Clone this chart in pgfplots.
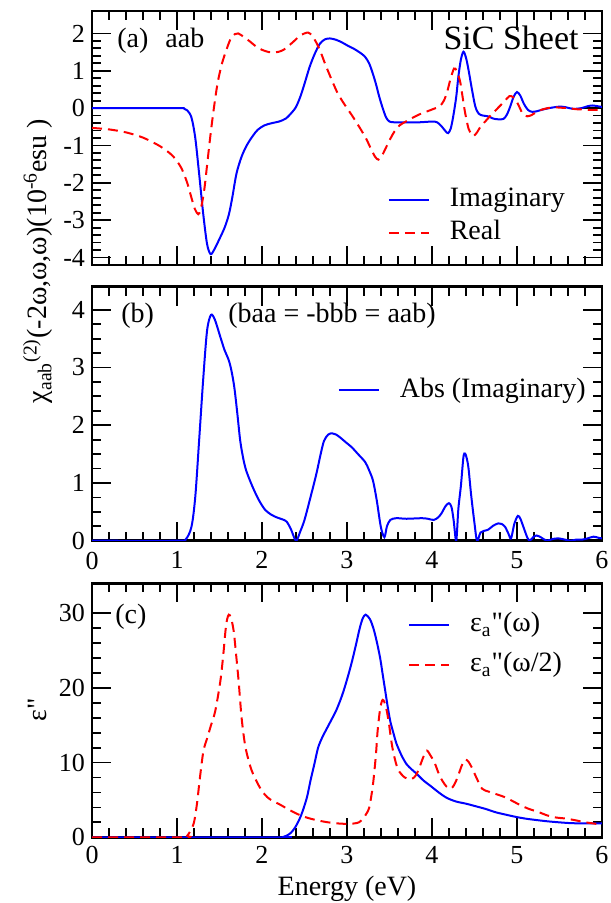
\documentclass[border=0pt]{standalone}
\usepackage{fontspec}
\setmainfont{Liberation Serif}
\usepackage{pgfplots}
\pgfplotsset{compat=1.18}
\definecolor{myblue}{RGB}{0,0,255}
\definecolor{myred}{RGB}{255,0,0}
\pgfplotsset{
 panel/.style={
  scale only axis, width=255pt, height=127pt,
  xmin=0, xmax=6, xtick={0,1,2,3,4,5,6}, minor x tick num=4,
  tick align=inside,
  major tick length=9.5pt, minor tick length=4.5pt,
  every tick/.style={black, line width=0.9pt},
  axis line style={line width=1.3pt},
  ticklabel style={font=\fontsize{13}{15}\selectfont},
  /pgf/number format/assume math mode=true,
  legend image code/.code={\draw[##1] (0pt,0pt) -- (20pt,0pt);},
  legend style={draw=none, fill=none, inner sep=0pt, outer sep=0pt,
    font=\fontsize{14}{16}\selectfont,
    nodes={inner sep=0pt, text height=9.6pt, text depth=3pt},
    /tikz/every odd column/.append style={column sep=10pt}},
  legend cell align=left,
 },
 imline/.style={myblue, line width=1pt, smooth, tension=0.5},
 reline/.style={myred, line width=1pt, dash pattern=on 5pt off 3pt, smooth, tension=0.5},
}
\begin{document}
\begin{tikzpicture}
\path[use as bounding box] (-46pt,5.5pt) rectangle (259pt,-446pt);
% ---------------- (a)
\begin{axis}[panel, at={(0pt,0pt)}, anchor=north west,
  ymin=-4.2, ymax=2.6, ytick={-4,-3,-2,-1,0,1,2},
  yticklabels={-4,-3,-2,-1,0,1,2}, minor y tick num=4,
  xticklabels={},
  legend style={at={(axis description cs:0.58,0.305)}, anchor=north west, row sep=3.9pt}]
\addplot[imline] coordinates {
(0,0) (1.0,0) (1.08,-0.01) (1.12,-0.06) (1.17,-0.25) (1.215,-0.8) (1.26,-1.75) (1.307,-2.8) (1.353,-3.63) (1.395,-3.91)
(1.44,-3.78) (1.50,-3.5) (1.56,-3.2) (1.61,-2.85) (1.65,-2.4) (1.70,-1.75) (1.76,-1.3) (1.82,-1.0) (1.89,-0.75) (1.95,-0.58)
(2.03,-0.46) (2.12,-0.40) (2.20,-0.36) (2.28,-0.28) (2.35,-0.12) (2.40,0.03) (2.45,0.3) (2.50,0.65) (2.56,1.1) (2.62,1.45)
(2.68,1.72) (2.74,1.84) (2.80,1.865) (2.87,1.83) (2.94,1.76) (3.01,1.67) (3.08,1.59) (3.15,1.49) (3.21,1.38) (3.26,1.2)
(3.30,0.95) (3.34,0.65) (3.38,0.3) (3.42,0.0) (3.46,-0.25) (3.50,-0.36) (3.56,-0.38) (3.70,-0.38) (3.85,-0.38) (4.00,-0.36)
(4.06,-0.38) (4.11,-0.48) (4.16,-0.62) (4.19,-0.67) (4.22,-0.55) (4.25,-0.22) (4.285,0.3) (4.31,0.84) (4.34,1.3) (4.37,1.51)
(4.40,1.35) (4.43,1.02) (4.47,0.5) (4.51,0.04) (4.55,-0.15) (4.60,-0.2) (4.66,-0.22) (4.72,-0.28) (4.78,-0.3) (4.84,-0.29)
(4.88,-0.18) (4.92,0.04) (4.96,0.3) (5.00,0.43) (5.04,0.33) (5.08,0.12) (5.13,-0.05) (5.18,-0.1) (5.24,-0.08) (5.30,-0.04)
(5.38,0.0) (5.46,0.03) (5.52,0.04) (5.58,0.02) (5.66,-0.02) (5.76,0.0) (5.83,0.05) (5.89,0.07) (5.95,0.05) (6.0,0.03)};
\addlegendentry{Imaginary}
\addplot[reline] coordinates {
(0,-0.53) (0.2,-0.57) (0.4,-0.65) (0.6,-0.79) (0.8,-1.02) (0.95,-1.28) (1.05,-1.6) (1.12,-2.0) (1.17,-2.4) (1.21,-2.7)
(1.25,-2.84) (1.28,-2.7) (1.32,-2.2) (1.36,-1.4) (1.40,-0.6) (1.44,0.1) (1.48,0.7) (1.53,1.2) (1.58,1.55) (1.63,1.85)
(1.68,1.98) (1.72,2.0) (1.79,1.9) (1.86,1.78) (1.93,1.65) (2.00,1.56) (2.08,1.5) (2.14,1.49) (2.20,1.51) (2.26,1.57)
(2.32,1.68) (2.38,1.8) (2.44,1.93) (2.50,2.0) (2.545,2.02) (2.59,1.94) (2.64,1.75) (2.69,1.5) (2.74,1.2) (2.79,0.92)
(2.84,0.65) (2.89,0.4) (2.95,0.17) (3.00,0.0) (3.06,-0.2) (3.11,-0.38) (3.17,-0.6) (3.23,-0.84) (3.28,-1.08) (3.33,-1.3)
(3.37,-1.38) (3.41,-1.28) (3.46,-1.05) (3.51,-0.82) (3.56,-0.62) (3.62,-0.46) (3.70,-0.35) (3.78,-0.25) (3.86,-0.16) (3.94,-0.09)
(4.02,-0.02) (4.09,0.05) (4.14,0.2) (4.18,0.45) (4.22,0.8) (4.26,1.06) (4.29,1.0) (4.33,0.72) (4.36,0.3) (4.39,-0.13)
(4.43,-0.55) (4.47,-0.72) (4.49,-0.75) (4.53,-0.65) (4.57,-0.5) (4.63,-0.35) (4.68,-0.22) (4.74,-0.08) (4.80,0.06) (4.86,0.2)
(4.91,0.32) (4.95,0.3) (4.99,0.2) (5.03,0.02) (5.07,-0.16) (5.12,-0.22) (5.16,-0.2) (5.22,-0.12) (5.28,-0.05) (5.36,0.0)
(5.44,0.02) (5.52,0.01) (5.60,0.0) (5.70,-0.03) (5.80,-0.04) (5.90,-0.05) (6.00,-0.05)};
\addlegendentry{Real}
\end{axis}
% ---------------- (b)
\begin{axis}[panel, at={(0pt,-137.85pt)}, anchor=north west,
  ymin=0, ymax=4.4, ytick={0,1,2,3,4}, minor y tick num=3,
  xticklabel style={yshift=-2pt},
  legend style={at={(axis description cs:0.482,0.641)}, anchor=north west}]
\addplot[imline] coordinates {
(0,0) (1.0,0) (1.1,0.02) (1.17,0.24) (1.215,0.76) (1.26,1.73) (1.307,2.77) (1.353,3.63) (1.399,3.91) (1.445,3.83)
(1.514,3.51) (1.56,3.3) (1.606,3.14) (1.64,2.95) (1.675,2.65) (1.71,2.2) (1.744,1.73) (1.78,1.42) (1.813,1.22) (1.87,1.0)
(1.927,0.81) (1.98,0.66) (2.04,0.53) (2.11,0.45) (2.18,0.40) (2.24,0.37) (2.29,0.33) (2.34,0.2) (2.40,0.0) (2.45,0.16)
(2.50,0.36) (2.57,0.75) (2.64,1.16) (2.69,1.5) (2.73,1.73) (2.78,1.84) (2.826,1.86) (2.87,1.84) (2.918,1.79) (2.99,1.70)
(3.055,1.62) (3.13,1.5) (3.215,1.36) (3.26,1.22) (3.306,1.04) (3.35,0.7) (3.398,0.24) (3.44,0.06) (3.47,0.25) (3.51,0.36)
(3.58,0.39) (3.70,0.38) (3.88,0.39) (3.95,0.38) (4.02,0.36) (4.07,0.40) (4.11,0.47) (4.16,0.6) (4.2,0.65) (4.23,0.58)
(4.255,0.35) (4.285,0.0) (4.31,0.55) (4.34,0.95) (4.37,1.45) (4.39,1.51) (4.41,1.42) (4.43,1.25) (4.46,0.8) (4.50,0.3)
(4.53,0.0) (4.57,0.14) (4.61,0.17) (4.66,0.19) (4.72,0.26) (4.78,0.30) (4.82,0.29) (4.86,0.24) (4.90,0.12) (4.93,0.04)
(4.97,0.3) (5.01,0.43) (5.04,0.38) (5.08,0.22) (5.12,0.06) (5.15,0.0) (5.19,0.06) (5.23,0.09) (5.28,0.06) (5.35,0.0)
(5.42,0.03) (5.49,0.04) (5.56,0.02) (5.63,0.0) (5.70,0.02) (5.77,0.02) (5.83,0.04) (5.9,0.07) (5.96,0.05) (6.0,0.04)};
\addlegendentry{Abs (Imaginary)}
\end{axis}
% ---------------- (c)
\begin{axis}[panel, at={(0pt,-286.15pt)}, anchor=north west,
  ymin=0, ymax=34, ytick={0,10,20,30}, minor y tick num=4,
  xticklabel style={yshift=-1pt},
  legend style={at={(axis description cs:0.62,0.884)}, anchor=north west, row sep=7.4pt}]
\addplot[imline] coordinates {
(0,0) (2.2,0) (2.25,0.05) (2.29,0.22) (2.34,0.6) (2.39,1.33) (2.44,2.4) (2.48,3.56) (2.53,5.4) (2.57,7.56)
(2.62,10.0) (2.66,12.0) (2.71,13.4) (2.76,14.5) (2.82,15.8) (2.87,16.9) (2.92,18.3) (2.96,19.6) (3.01,21.5) (3.06,23.6)
(3.11,26.0) (3.15,28.0) (3.185,29.3) (3.22,29.8) (3.27,29.2) (3.31,28.0) (3.35,26.2) (3.39,24.0) (3.42,21.8) (3.45,19.6)
(3.48,17.4) (3.51,15.5) (3.55,13.8) (3.58,12.6) (3.64,11.0) (3.70,9.8) (3.76,9.1) (3.82,8.5) (3.90,7.6) (3.98,6.9)
(4.08,6.0) (4.17,5.3) (4.28,4.8) (4.40,4.5) (4.50,4.2) (4.63,3.8) (4.75,3.35) (4.88,3.0) (5.0,2.7) (5.1,2.5)
(5.2,2.35) (5.35,2.15) (5.5,2.0) (5.63,1.9) (5.8,1.85) (6.0,1.88)};
\addlegendentry{ε\textsubscript{a}\textquotedbl(ω)}
\addplot[reline] coordinates {
(0,0) (1.08,0) (1.12,0.2) (1.16,0.9) (1.20,2.0) (1.235,4.5) (1.27,8.0) (1.31,11.5) (1.353,13.2) (1.40,15.0)
(1.45,16.9) (1.51,20.9) (1.545,24.5) (1.57,27.6) (1.59,29.2) (1.61,29.8) (1.635,29.4) (1.667,27.6) (1.695,24.5) (1.725,20.9)
(1.76,16.0) (1.80,12.4) (1.84,10.4) (1.88,8.9) (1.94,7.4) (2.0,6.2) (2.06,5.4) (2.12,4.9) (2.2,4.45) (2.27,4.0)
(2.35,3.5) (2.45,2.95) (2.55,2.56) (2.66,2.25) (2.78,2.0) (2.9,1.85) (3.0,1.8) (3.08,1.85) (3.14,2.0) (3.19,2.5)
(3.23,3.2) (3.26,3.9) (3.29,5.8) (3.31,7.5) (3.34,11.0) (3.36,14.2) (3.39,17.2) (3.42,18.4) (3.455,17.6) (3.49,15.5)
(3.52,13.0) (3.55,11.1) (3.60,9.1) (3.68,8.0) (3.76,7.8) (3.81,8.3) (3.85,9.3) (3.90,10.8) (3.94,11.6) (3.985,10.9)
(4.03,10.0) (4.08,8.5) (4.12,7.6) (4.17,6.8) (4.22,6.5) (4.26,7.0) (4.30,8.0) (4.35,9.6) (4.39,10.4) (4.43,10.1)
(4.47,9.3) (4.53,7.8) (4.59,6.5) (4.67,6.1) (4.75,5.8) (4.85,5.4) (4.94,4.9) (5.04,4.3) (5.14,3.8) (5.25,3.4)
(5.35,2.95) (5.46,2.65) (5.58,2.5) (5.7,2.25) (5.81,2.0) (5.9,1.85) (6.0,1.7)};
\addlegendentry{ε\textsubscript{a}\textquotedbl(ω/2)}
\end{axis}
% ---------------- texts
\node[anchor=base west, inner sep=0pt, font=\fontsize{14}{16}\selectfont] at (12.5pt,-18.5pt) {(a)};
\node[anchor=base west, inner sep=0pt, font=\fontsize{14}{16}\selectfont] at (36.5pt,-18.5pt) {aab};
\node[anchor=base east, inner sep=0pt, font=\fontsize{17}{19}\selectfont] at (243.5pt,-19.5pt) {SiC Sheet};
\node[anchor=base west, inner sep=0pt, font=\fontsize{14}{16}\selectfont] at (14.5pt,-156pt) {(b)};
\node[anchor=base west, inner sep=0pt, font=\fontsize{14}{16}\selectfont] at (68pt,-156pt) {(baa = -bbb = aab)};
\node[anchor=base west, inner sep=0pt, font=\fontsize{14}{16}\selectfont] at (11.5pt,-306pt) {(c)};
\node[anchor=base, inner sep=0pt, font=\fontsize{14}{16}\selectfont] at (127.5pt,-442pt) {Energy (eV)};
\node[rotate=90, anchor=base, inner sep=0pt, font=\fontsize{14}{16}\selectfont] at (-22.5pt,-125pt)
  {χ\textsubscript{aab}\textsuperscript{(2)}(-2ω,ω,ω)(10\textsuperscript{-6}esu )};
\node[rotate=90, anchor=base, inner sep=0pt, font=\fontsize{14}{16}\selectfont] at (-22.5pt,-349.5pt) {ε\textquotedbl};
\end{tikzpicture}
\end{document}
